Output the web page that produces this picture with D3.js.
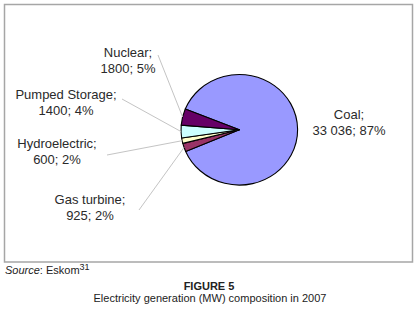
<!DOCTYPE html>
<html><head><meta charset="utf-8">
<script src="https://cdn.jsdelivr.net/npm/d3@7"></script>
<style>
html,body{margin:0;padding:0;background:#fff;}
svg{display:block;font-family:"Liberation Sans",Arial,sans-serif;}
</style></head>
<body><svg id="c" width="416" height="314"></svg>
<script>
const categories = ["Coal", "Gas turbine", "Hydroelectric", "Pumped Storage", "Nuclear"];
const values = [33036, 925, 600, 1400, 1800];
const valueLabels = ["33 036", "925", "600", "1400", "1800"];
const colors = ["#9999ff", "#993366", "#ffffcc", "#ccffff", "#660066"];
// label layout: [centerX, firstBaseline, lineStartX, lineStartY] (null = no leader)
const labelLayout = [
  [349, 119, null, null],
  [90, 204, 139, 210],
  [57, 148, 107, 155],
  [66, 99, 122, 99],
  [128, 57, 158, 55]
];

const svg = d3.select("#c");
const W = 416, H = 314;
const cx = 239.3, cy = 129.8, rx = 58.3, ry = 55.3;

// frame
svg.append("rect").attr("x", 4.5).attr("y", 4.5).attr("width", 408).attr("height", 257.5)
  .attr("fill", "#fff").attr("stroke", "#a6a6a6").attr("stroke-width", 1.5);

const total = d3.sum(values);
const start = -68 * Math.PI / 180;
const pie = d3.pie().sort(null).startAngle(start).endAngle(start + 2 * Math.PI);
const arcs = pie(values);
const arc = d3.arc().innerRadius(0).outerRadius(1);

const g = svg.append("g").attr("transform", `translate(${cx},${cy}) scale(${rx},${ry})`);
g.selectAll("path").data(arcs).join("path")
  .attr("d", arc)
  .attr("fill", (d, i) => colors[i])
  .attr("stroke", "#000")
  .attr("stroke-width", 1.1)
  .attr("vector-effect", "non-scaling-stroke")
  .attr("stroke-linejoin", "round");

// leader lines
arcs.forEach((d, i) => {
  const L = labelLayout[i];
  if (L[2] === null) return;
  const a = (d.startAngle + d.endAngle) / 2;
  const ex = cx + rx * Math.sin(a) * 1.0, ey = cy - ry * Math.cos(a) * 1.0;
  svg.append("line").attr("x1", L[2]).attr("y1", L[3]).attr("x2", ex).attr("y2", ey)
    .attr("stroke", "#c4c4c4").attr("stroke-width", 1);
});

// labels
arcs.forEach((d, i) => {
  const L = labelLayout[i];
  const pct = Math.round(values[i] / total * 100) + "%";
  const t = svg.append("text").attr("text-anchor", "middle").attr("font-size", 13).attr("fill", "#2a2a2a");
  t.append("tspan").attr("x", L[0]).attr("y", L[1]).text(categories[i] + ";");
  t.append("tspan").attr("x", L[0]).attr("y", L[1] + 15.5).text(valueLabels[i] + "; " + pct);
});

// footer
const src = svg.append("text").attr("x", 5).attr("y", 274).attr("font-size", 11).attr("fill", "#222");
src.append("tspan").attr("font-style", "italic").text("Source");
src.append("tspan").text(": Eskom");
src.append("tspan").attr("font-size", 9).attr("dy", -4).text("31");

svg.append("text").attr("x", 209).attr("y", 290).attr("text-anchor", "middle")
  .attr("font-size", 11).attr("font-weight", "bold").attr("fill", "#222").text("FIGURE 5");
svg.append("text").attr("x", 210).attr("y", 302).attr("text-anchor", "middle")
  .attr("font-size", 11).attr("fill", "#222").text("Electricity generation (MW) composition in 2007");
</script></body></html>
